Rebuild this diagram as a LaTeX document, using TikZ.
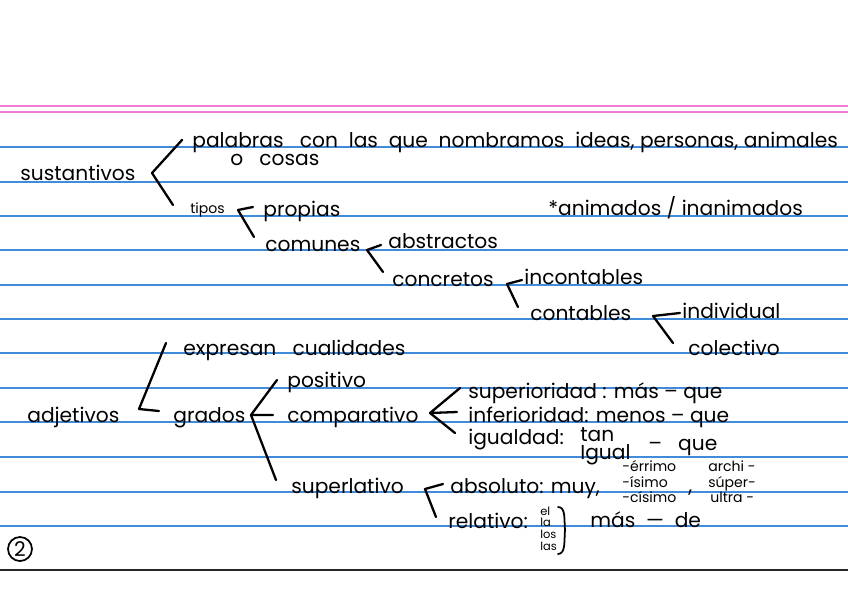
\documentclass[tikz,border=0pt]{standalone}
\usepackage{fontspec}
\setmainfont{Poppins}
\usetikzlibrary{positioning}

\definecolor{ruleblue}{RGB}{64,140,218}
\definecolor{marginpink}{RGB}{240,125,215}

\begin{document}
\begin{tikzpicture}[
  x=0.02cm, y=-0.02cm,
  font=\fontsize{11.5}{13}\selectfont,
  word/.style={anchor=base west, inner sep=0pt},
  small/.style={word, font=\fontsize{8}{9}\selectfont},
  tiny/.style={word, font=\fontsize{6.5}{7}\selectfont},
  brace/.style={line width=1.3pt, line cap=round, line join=round},
  ruled/.style={ruleblue, line width=1pt},
]
\useasboundingbox (0,0) rectangle (848,599);
\fill[white] (0,0) rectangle (848,599);

% notebook page
\draw[marginpink, line width=1.1pt] (0,106) -- (848,106);
\draw[marginpink, line width=1.1pt] (0,112) -- (848,112);
\foreach \y in {147,182,216,250,285,319,353,388,422,457,492,526}
  \draw[ruled] (0,\y) -- (848,\y);
\draw[black!85, line width=1pt] (0,570) -- (848,570);

% sustantivos
\node[word] (sus)    at (20,180)  {sustantivos};
\node[word] (def1)   at (192,147) {palabras\ \ \ con\ \ las\ \ que\ \ nombramos\ \ ideas, personas, animales};
\node[word] (def2)   at (230,165) {o\ \ \ cosas};
\node[small] (tipos) at (190,213) {tipos};
\node[word] (prop)   at (263,216) {propias};
\node[word] (anim)   at (548,215) {*animados / inanimados};
\node[word] (com)    at (265,251) {comunes};
\node[word] (abs)    at (388,248) {abstractos};
\node[word] (conc)   at (392,286) {concretos};
\node[word] (incont) at (524,284) {incontables};
\node[word] (cont)   at (530,320) {contables};
\node[word] (indiv)  at (682,318) {individual};
\node[word] (colec)  at (688,355) {colectivo};

\coordinate (susT) at (182,140);
\coordinate (susV) at (152,173);
\coordinate (susB) at (173,205);
\draw[brace] (susT) -- (susV) -- (susB);

\coordinate (tipA) at (238,210);
\coordinate (tipB) at (253,207);
\coordinate (tipC) at (254,237);
\draw[brace] (tipB) -- (tipA) -- (tipC);

\coordinate (comA) at (367,250);
\coordinate (comB) at (381,245);
\coordinate (comC) at (383,272);
\draw[brace] (comB) -- (comA) -- (comC);

\coordinate (concA) at (507,284);
\coordinate (concB) at (522,280);
\coordinate (concC) at (518,307);
\draw[brace] (concB) -- (concA) -- (concC);

\coordinate (contA) at (653,316);
\coordinate (contB) at (680,313);
\coordinate (contC) at (673,343);
\draw[brace] (contB) -- (contA) -- (contC);

% adjetivos
\node[word] (adj)    at (27,422)  {adjetivos};
\node[word] (expr)   at (183,355) {expresan\ \ \ cualidades};
\node[word] (grad)   at (173,422) {grados};
\node[word] (posi)   at (287,387) {positivo};
\node[word] (compa)  at (287,422) {comparativo};
\node[word] (sup)    at (291,493) {superlativo};

\coordinate (adjT) at (166,343);
\coordinate (adjV) at (139,409);
\coordinate (adjR) at (159,411);
\draw[brace] (adjT) -- (adjV) -- (adjR);

\coordinate (gradV) at (251,415);
\coordinate (gradT) at (277,380);
\coordinate (gradM) at (273,415);
\coordinate (gradB) at (276,480);
\draw[brace] (gradT) -- (gradV) -- (gradM);
\draw[brace] (gradV) -- (gradB);

% comparativo
\node[word] (super)  at (468,398) {superioridad : más -- que};
\node[word] (infer)  at (468,422) {inferioridad: menos -- que};
\node[word] (igual)  at (468,444) {igualdad:};
\node[word] (tan)    at (580,441) {tan};
\node[word] (iguW)   at (580,459) {Igual};
\node[word] (ique)   at (648,450) {--\ \ \ que};

\coordinate (cmpV) at (430,413);
\coordinate (cmpT) at (460,388);
\coordinate (cmpM) at (457,412);
\coordinate (cmpB) at (455,433);
\draw[brace] (cmpT) -- (cmpV) -- (cmpM);
\draw[brace] (cmpV) -- (cmpB);

% superlativo
\node[word] (absol)  at (450,493) {absoluto: muy,};
\node[small] (err)   at (622,471) {-érrimo};
\node[small] (isi)   at (622,487) {-ísimo};
\node[small] (cisi)  at (622,502) {-císimo};
\node[word] (comma)  at (688,492) {,};
\node[small] (archi) at (708,471) {archi -};
\node[small] (super2) at (708,487) {súper-};
\node[small] (ultra) at (710,502) {ultra -};
\node[word] (rel)    at (448,528) {relativo:};
\node[tiny] (el)     at (540,515) {el};
\node[tiny] (la)     at (540,526) {la};
\node[tiny] (los)    at (540,538) {los};
\node[tiny] (las)    at (540,550) {las};
\node[word] (masde)  at (590,527) {más\ \ ---\ \ de};

\coordinate (supA) at (425,489);
\coordinate (supB) at (443,484);
\coordinate (supC) at (436,517);
\draw[brace] (supB) -- (supA) -- (supC);

\coordinate (artT) at (558,507);
\coordinate (artB) at (558,554);
\draw[line width=1pt, line cap=round] (artT) .. controls (566,507) and (564,520) .. (565,530)
  .. controls (564,540) and (566,554) .. (artB);

% page number
\node[draw, circle, line width=1pt, inner sep=0pt, minimum size=0.48cm] (page) at (20,549) {2};
\end{tikzpicture}
\end{document}
